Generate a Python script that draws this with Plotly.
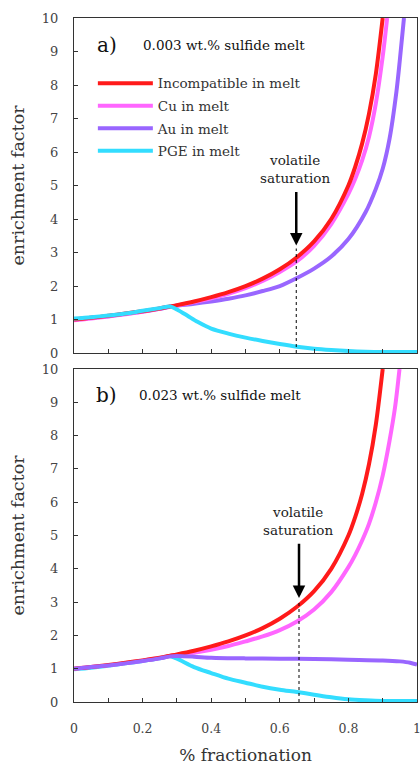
import plotly.graph_objects as go

# ---- data: enrichment factor vs. fraction crystallised ----
# panel a) 0.003 wt.% sulfide melt
frac_inc = [0, 0.05, 0.1, 0.15, 0.2, 0.25, 0.28, 0.3, 0.35, 0.4, 0.45, 0.5, 0.55, 0.6,
            0.65, 0.7, 0.75, 0.8, 0.82, 0.84, 0.86, 0.88, 0.9]
inc_a = [1.0, 1.05, 1.11, 1.18, 1.25, 1.33, 1.39, 1.43, 1.54, 1.67, 1.82, 2.0, 2.22, 2.5,
         2.86, 3.33, 4.0, 5.0, 5.56, 6.25, 7.14, 8.33, 10.0]

frac_cu_a = [0, 0.05, 0.1, 0.15, 0.2, 0.25, 0.28, 0.3, 0.35, 0.4, 0.45, 0.5, 0.55, 0.6,
             0.65, 0.7, 0.75, 0.8, 0.82, 0.84, 0.86, 0.88, 0.9, 0.913]
cu_a = [0.98, 1.03, 1.09, 1.16, 1.23, 1.32, 1.38, 1.42, 1.52, 1.63, 1.77, 1.94, 2.15, 2.42,
        2.74, 3.2, 3.85, 4.75, 5.2, 5.75, 6.45, 7.45, 8.85, 10.0]

frac_au_a = [0, 0.05, 0.1, 0.15, 0.2, 0.25, 0.28, 0.3, 0.35, 0.4, 0.45, 0.5, 0.55, 0.6,
             0.65, 0.7, 0.75, 0.8, 0.85, 0.88, 0.9, 0.92, 0.94, 0.95, 0.962]
au_a = [1.0, 1.05, 1.1, 1.17, 1.24, 1.32, 1.38, 1.41, 1.47, 1.54, 1.62, 1.72, 1.85, 2.0,
        2.24, 2.52, 2.88, 3.4, 4.2, 4.9, 5.5, 6.4, 7.8, 8.75, 10.0]

frac_pge = [0, 0.05, 0.1, 0.15, 0.2, 0.25, 0.28, 0.3, 0.33, 0.36, 0.4, 0.45, 0.5, 0.55,
            0.6, 0.65, 0.7, 0.75, 0.8, 0.85, 0.9, 0.95, 1.0]
pge_a = [1.03, 1.07, 1.12, 1.18, 1.26, 1.34, 1.39, 1.3, 1.12, 0.93, 0.73, 0.58, 0.46, 0.36,
         0.27, 0.19, 0.13, 0.09, 0.06, 0.04, 0.03, 0.03, 0.03]

# panel b) 0.023 wt.% sulfide melt
inc_b = inc_a

frac_cu_b = [0, 0.05, 0.1, 0.15, 0.2, 0.25, 0.28, 0.3, 0.35, 0.4, 0.45, 0.5, 0.55, 0.6,
             0.65, 0.7, 0.75, 0.8, 0.82, 0.84, 0.86, 0.88, 0.9, 0.92, 0.936, 0.949]
cu_b = [1.0, 1.05, 1.1, 1.17, 1.24, 1.32, 1.38, 1.41, 1.48, 1.57, 1.68, 1.82, 1.97, 2.16,
        2.42, 2.78, 3.3, 4.05, 4.42, 4.85, 5.35, 6.0, 6.8, 7.85, 8.85, 10.0]

frac_au_b = [0, 0.05, 0.1, 0.15, 0.2, 0.25, 0.28, 0.3, 0.35, 0.4, 0.5, 0.6, 0.7, 0.8,
             0.9, 0.95, 0.98, 1.0]
au_b = [1.0, 1.05, 1.1, 1.16, 1.23, 1.31, 1.37, 1.38, 1.36, 1.33, 1.31, 1.30, 1.29, 1.27,
        1.25, 1.22, 1.18, 1.12]

frac_pge_b = [0, 0.05, 0.1, 0.15, 0.2, 0.25, 0.28, 0.3, 0.35, 0.4, 0.45, 0.5, 0.55, 0.6,
              0.65, 0.7, 0.75, 0.8, 0.85, 0.9, 0.95, 1.0]
pge_b = [0.98, 1.03, 1.09, 1.16, 1.23, 1.31, 1.37, 1.3, 1.05, 0.87, 0.7, 0.58, 0.46, 0.37,
         0.3, 0.22, 0.14, 0.08, 0.05, 0.03, 0.03, 0.03]

# volatile saturation point (fraction) for each panel
sat_a = 0.648
sat_b = 0.656

x_ticks = [0, 0.2, 0.4, 0.6, 0.8, 1]
x_tick_text = ["0", "0.2", "0.4", "0.6", "0.8", "1"]

names = ["Incompatible in melt", "Cu in melt", "Au in melt", "PGE in melt"]
colors = ["#ff1a1a", "#ff66ff", "#9966ff", "#33ddff"]

SERIF = "DejaVu Serif"
LW = 4

fig = go.Figure()


def add_line(x, y, idx, xa, ya, legend):
    fig.add_trace(go.Scatter(
        x=x, y=y, mode="lines", name=names[idx],
        line=dict(color=colors[idx], width=LW, shape="spline", smoothing=0.8),
        xaxis=xa, yaxis=ya, showlegend=legend, legendrank=idx + 1,
        legendgroup=names[idx], hoverinfo="skip",
    ))


# panel a (drawing order: Au, Cu, incompatible, PGE)
add_line(frac_au_a, au_a, 2, "x", "y", True)
add_line(frac_cu_a, cu_a, 1, "x", "y", True)
add_line(frac_inc, inc_a, 0, "x", "y", True)
add_line(frac_pge, pge_a, 3, "x", "y", True)

# panel b
add_line(frac_pge_b, pge_b, 3, "x2", "y2", False)
add_line(frac_cu_b, cu_b, 1, "x2", "y2", False)
add_line(frac_inc, inc_b, 0, "x2", "y2", False)
add_line(frac_au_b, au_b, 2, "x2", "y2", False)

axis_common = dict(
    showline=True, linecolor="#333333", linewidth=1, mirror=True,
    ticks="inside", ticklen=4, tickcolor="#333333", showgrid=False, zeroline=False,
    automargin=False, ticklabeloverflow="allow",
)
xminor = dict(dtick=0.1, tick0=0, ticks="inside", ticklen=4, tickcolor="#333333")
ytitle = dict(text="enrichment factor", standoff=12,
              font=dict(family=SERIF, size=17.5, color="#333333"))
ytickfont = dict(family=SERIF, size=13, color="#444444")

fig.update_layout(
    width=420, height=765,
    margin=dict(l=74, r=3, t=18, b=63),
    paper_bgcolor="white", plot_bgcolor="white",
    xaxis=dict(domain=[0, 1], anchor="y", range=[0, 1], tickvals=x_ticks,
               showticklabels=False, minor=xminor, **axis_common),
    yaxis=dict(domain=[0.5102, 1], anchor="x", range=[0, 10], dtick=1,
               ticklabelstandoff=12, tickfont=ytickfont, title=ytitle, **axis_common),
    xaxis2=dict(domain=[0, 1], anchor="y2", range=[0, 1], tickvals=x_ticks,
                ticktext=x_tick_text, ticklabelstandoff=15, minor=xminor,
                tickfont=dict(family=SERIF, size=12.5, color="#444444"),
                title=dict(text="% fractionation", standoff=19,
                           font=dict(family=SERIF, size=17, color="#333333")),
                **axis_common),
    yaxis2=dict(domain=[0, 0.4868], anchor="x2", range=[0, 10], dtick=1,
                ticklabelstandoff=12, tickfont=ytickfont, title=ytitle, **axis_common),
    legend=dict(x=0.055, y=0.927, xanchor="left", yanchor="top",
                font=dict(family=SERIF, size=13.5, color="#333333"),
                itemwidth=55, tracegroupgap=2, bgcolor="rgba(0,0,0,0)",
                traceorder="grouped"),
    showlegend=True,
)

# panel labels and subtitles
for xr, yr, lab, sub, ylab, xsub in [("x", "y", "a)", "0.003 wt.% sulfide melt", 9.18, 0.437),
                                     ("x2", "y2", "b)", "0.023 wt.% sulfide melt", 9.22, 0.426)]:
    fig.add_annotation(x=0.095, y=ylab, xref=xr, yref=yr, text=lab, showarrow=False,
                       font=dict(family=SERIF, size=20, color="#111111"))
    fig.add_annotation(x=xsub, y=ylab, xref=xr, yref=yr, text=sub, showarrow=False,
                       font=dict(family=SERIF, size=13.5, color="#111111"))

# volatile saturation markers: label, arrow and dotted drop line
for xr, yr, sat, ytxt, ytail, ytip, ydot in [("x", "y", sat_a, 5.5, 4.85, 3.21, 3.12),
                                             ("x2", "y2", sat_b, 5.45, 4.8, 3.12, 3.06)]:
    fig.add_annotation(x=sat - 0.004, y=ytxt, xref=xr, yref=yr,
                       text="volatile<br>saturation", showarrow=False,
                       font=dict(family=SERIF, size=13.5, color="#222222"))
    fig.add_annotation(x=sat, y=ytip, ax=sat, ay=ytail, xref=xr, yref=yr,
                       axref=xr, ayref=yr, text="", showarrow=True,
                       arrowhead=2, arrowsize=1, arrowwidth=2.5, arrowcolor="#000000")
    fig.add_shape(type="line", x0=sat, x1=sat, y0=0, y1=ydot, xref=xr, yref=yr,
                  line=dict(color="#000000", width=1, dash="dot"))

fig.write_html("out.html")
